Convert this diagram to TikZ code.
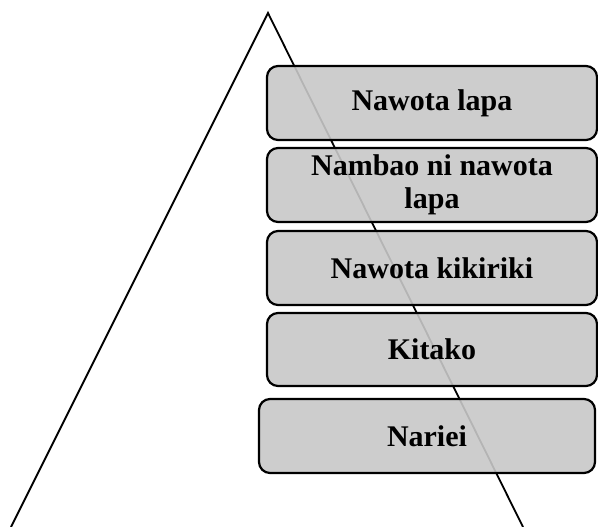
\documentclass[tikz,border=0pt]{standalone}
\usepackage{fontspec}
\setmainfont{Liberation Serif}
\begin{document}
\begin{tikzpicture}[x=1pt,y=-1pt,
  levelbox/.style={draw=black, line width=2.2pt, rounded corners=11pt,
    fill={rgb,255:red,200;green,200;blue,200}, fill opacity=0.9, text opacity=1,
    align=center, inner sep=0pt,
    font=\fontsize{30}{33}\selectfont\bfseries}]
\useasboundingbox (0,0) rectangle (598,527);
\coordinate (apex) at (268,13);
\coordinate (bl) at (11,527);
\coordinate (br) at (523,527);
\draw[line width=1.8pt, line join=miter] (bl) -- (apex) -- (br);
\node[levelbox, minimum width=330pt, minimum height=74pt] (b1) at (432,103) {Nawota lapa};
\node[levelbox, minimum width=330pt, minimum height=74pt] (b2) at (432,185) {Nambao ni nawota\\lapa};
\node[levelbox, minimum width=330pt, minimum height=74pt] (b3) at (432,268) {Nawota kikiriki};
\node[levelbox, minimum width=330pt, minimum height=73pt] (b4) at (432,349.5) {Kitako};
\node[levelbox, minimum width=336pt, minimum height=74pt] (b5) at (427,436) {Nariei};
\end{tikzpicture}
\end{document}
